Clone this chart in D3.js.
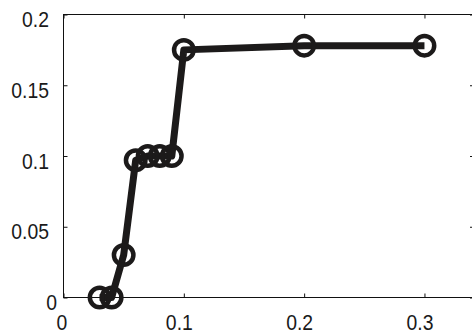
<!DOCTYPE html>
<meta charset='utf-8'>
<style>
  body { margin: 0; background: #fff; }
  .tick text { font-family: 'Liberation Sans', Arial, sans-serif; font-size: 22px; fill: #1a1a1a; }
  .domain, .tick line { stroke: #111; }
</style>
<body>
<script src='https://d3js.org/d3.v7.min.js'></script>
<script>
  // values
  var xs = [0.03, 0.04, 0.05, 0.06, 0.07, 0.08, 0.09, 0.1, 0.2, 0.3];
  var ys = [0, 0, 0.03, 0.097, 0.1, 0.1, 0.1, 0.175, 0.178, 0.178];
  var xTicks = [0, 0.1, 0.2, 0.3];
  var yTicks = [0, 0.05, 0.1, 0.15, 0.2];

  var W = 472, H = 335;
  var plotL = 63.5, plotR = 475, plotT = 14.5, plotB = 297.5;
  var squeeze = 0.88; // labels in the reference are a bit narrow

  var svg = d3.select('body').append('svg')
      .attr('width', W).attr('height', H);

  var x = d3.scaleLinear().domain([0, 0.342]).range([plotL, plotR]);
  var y = d3.scaleLinear().domain([0, 0.2]).range([plotB, plotT]);

  // box
  svg.append('rect')
      .attr('x', plotL).attr('y', plotT)
      .attr('width', plotR - plotL).attr('height', plotB - plotT)
      .attr('fill', 'none').attr('stroke', '#111').attr('stroke-width', 1);

  // bottom axis
  svg.append('g')
      .attr('transform', 'translate(0,' + plotB + ')')
      .call(d3.axisBottom(x).tickValues(xTicks).tickSize(-4).tickPadding(17)
        .tickFormat(function(d) { return d === 0 ? '0' : d3.format('.1f')(d); }))
      .call(function(g) { g.select('.domain').remove(); })
      .selectAll('.tick text')
      .attr('transform', 'scale(' + squeeze + ',1)')
      .attr('x', function(d) { return (d === 0 ? -2 : -5) / squeeze; });

  // left axis
  svg.append('g')
      .attr('transform', 'translate(' + plotL + ',0)')
      .call(d3.axisLeft(y).tickValues(yTicks).tickSize(-4)
        .tickFormat(function(d) { return d === 0 ? '0' : String(+d.toFixed(2)); }))
      .call(function(g) { g.select('.domain').remove(); })
      .selectAll('.tick text')
      .attr('transform', 'scale(' + squeeze + ',1)')
      .attr('x', function(d) { return ((d === 0 ? 57 : 49) - plotL) / squeeze; })
      .attr('y', 5);

  // top / right ticks
  svg.append('g')
      .attr('transform', 'translate(0,' + plotT + ')')
      .call(d3.axisTop(x).tickValues(xTicks).tickSize(-4).tickFormat(''))
      .call(function(g) { g.select('.domain').remove(); });

  svg.append('g')
      .attr('transform', 'translate(' + plotR + ',0)')
      .call(d3.axisRight(y).tickValues(yTicks).tickSize(-5).tickFormat(''))
      .call(function(g) { g.select('.domain').remove(); });

  var pts = xs.map(function(v, i) { return { x: v, y: ys[i] }; });

  var line = d3.line()
      .x(function(d) { return x(d.x); })
      .y(function(d) { return y(d.y); });

  svg.append('path')
      .datum(pts)
      .attr('d', line)
      .attr('fill', 'none')
      .attr('stroke', '#1c1a1a')
      .attr('stroke-width', 7)
      .attr('stroke-linejoin', 'round');

  svg.selectAll('circle.m')
      .data(pts)
      .enter().append('circle')
      .attr('class', 'm')
      .attr('cx', function(d) { return x(d.x); })
      .attr('cy', function(d) { return y(d.y); })
      .attr('r', 9.75)
      .attr('fill', 'none')
      .attr('stroke', '#1c1a1a')
      .attr('stroke-width', 4.5);
</script>
</body>
